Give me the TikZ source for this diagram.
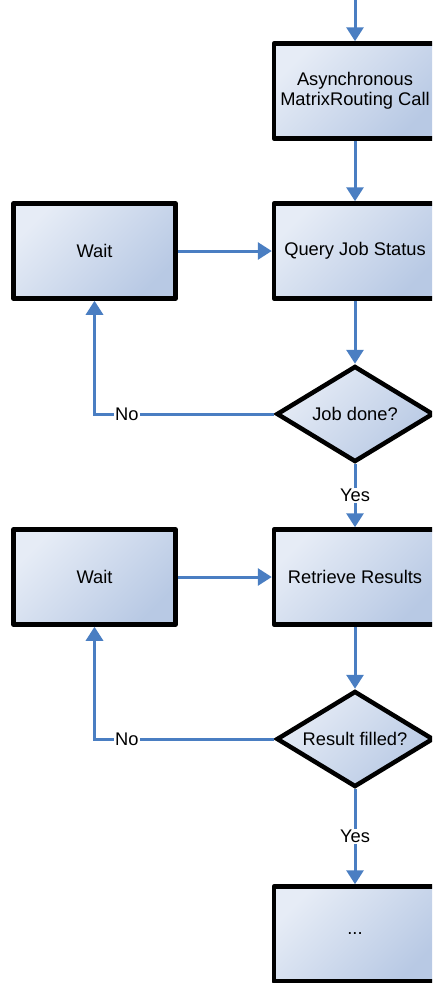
\documentclass[tikz,border=0pt]{standalone}
\usepackage{fontspec}
\setmainfont{Liberation Sans}
\usetikzlibrary{shapes.geometric,arrows.meta}
\definecolor{boxlight}{RGB}{230,236,246}
\definecolor{boxdark}{RGB}{184,201,228}
\definecolor{arrowblue}{RGB}{74,126,194}
\tikzset{
  every node/.style={font=\fontsize{18.3}{20}\selectfont},
  procbox/.style={draw=black, line width=4.5pt, line join=round, rectangle,
    minimum width=162pt, minimum height=95pt, inner sep=0pt, align=center,
    top color=boxlight, bottom color=boxdark, shading angle=45},
  decbox/.style={draw=black, line width=4.5pt, line join=miter, diamond,
    minimum width=157pt, minimum height=96pt, inner sep=0pt, aspect=1.6,
    top color=boxlight, bottom color=boxdark, shading angle=45},
  flow/.style={draw=arrowblue, line width=3pt,
    -{Triangle[length=14pt,width=17pt]}},
  lbl/.style={fill=white, inner sep=1pt, text=black}
}
\begin{document}
\begin{tikzpicture}[x=1pt,y=-1pt]
\path[use as bounding box, clip] (0,0) rectangle (432,983);
\coordinate (start) at (355,-2);
\node[procbox] (async) at (355,91) {Asynchronous\\MatrixRouting Call};
\node[procbox] (query) at (355,251) {Query Job Status};
\node[procbox] (wait1) at (94.5,251) {Wait};
\node[decbox] (dec1) at (355,414) {Job done?};
\node[procbox] (retr) at (355,577) {Retrieve Results};
\node[procbox] (wait2) at (94.5,577) {Wait};
\node[decbox] (dec2) at (355,739) {Result filled?};
\node[procbox] (last) at (355,934) {...};

\draw[flow] (start) -- (async.north);
\draw[flow] (async.south) -- (query.north);
\draw[flow] (wait1.east) -- (query.west);
\draw[flow] (query.south) -- (dec1.north);
\draw[flow] (dec1.west) -| node[lbl, pos=0.41] {No} (wait1.south);
\draw[flow] (dec1.south) -- node[lbl] {Yes} (retr.north);
\draw[flow] (wait2.east) -- (retr.west);
\draw[flow] (retr.south) -- (dec2.north);
\draw[flow] (dec2.west) -| node[lbl, pos=0.41] {No} (wait2.south);
\draw[flow] (dec2.south) -- node[lbl] {Yes} (last.north);
\end{tikzpicture}
\end{document}
